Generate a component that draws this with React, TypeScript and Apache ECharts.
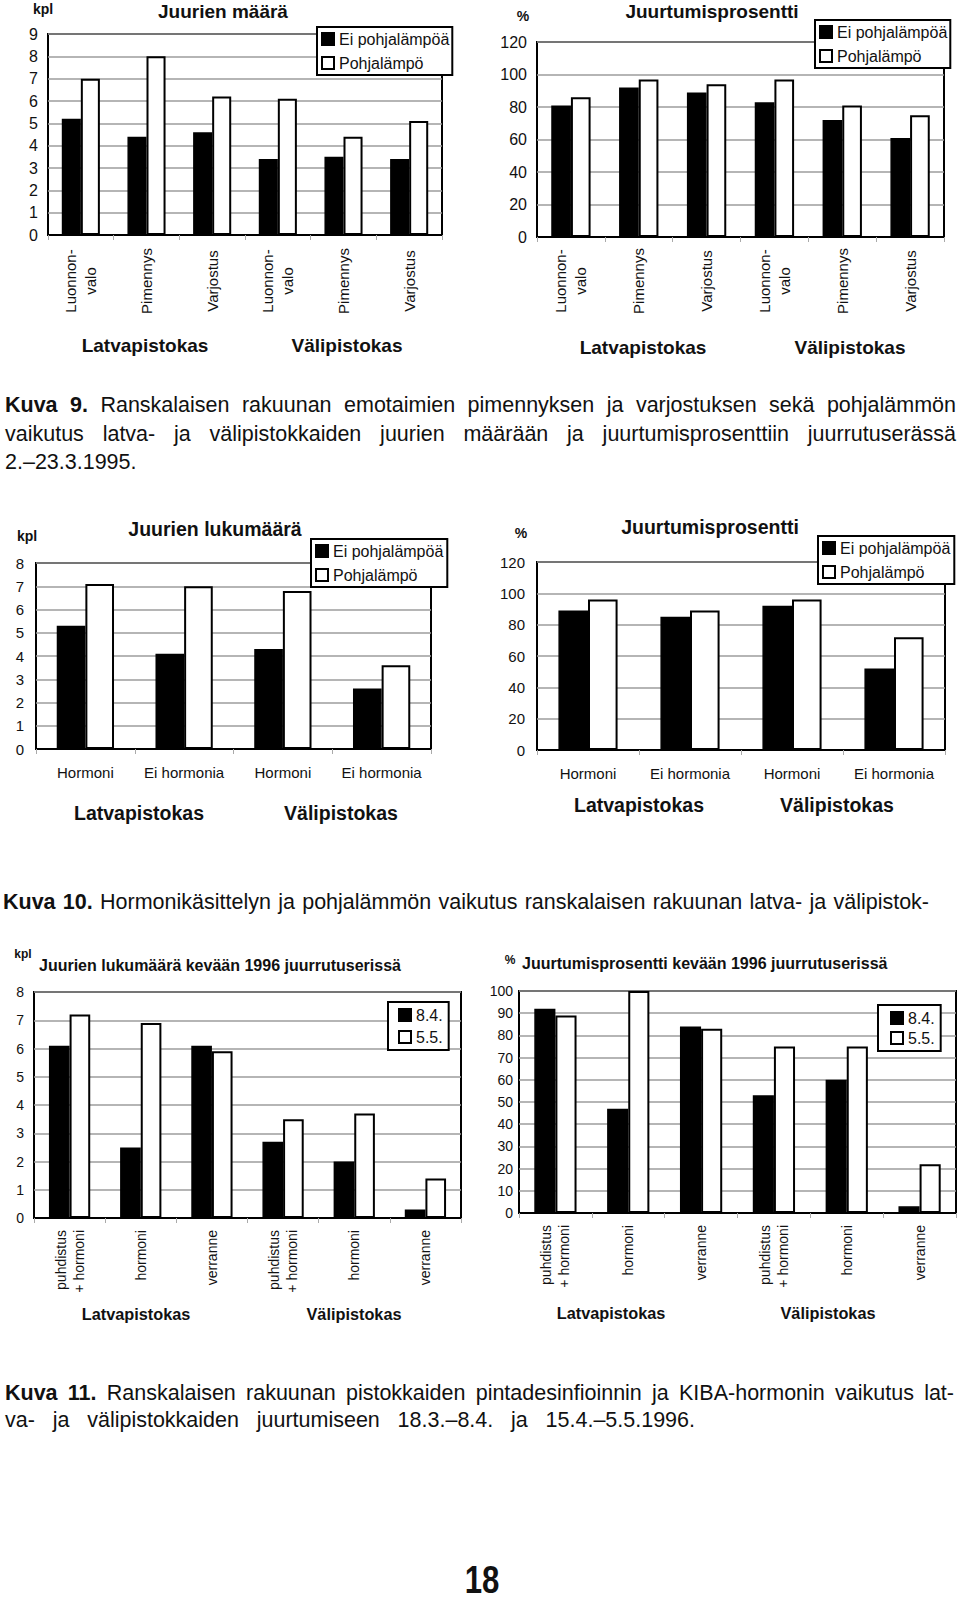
import React, { useEffect, useRef } from "react";
import * as echarts from "echarts";

// ---------- DATA ----------
const fig9Categories = ["Luonnon-\nvalo", "Pimennys", "Varjostus", "Luonnon-\nvalo", "Pimennys", "Varjostus"];
const fig9RootsNoHeat = [5.2, 4.4, 4.6, 3.4, 3.5, 3.4];
const fig9RootsHeat = [7.0, 8.0, 6.2, 6.1, 4.4, 5.1];
const fig9PctNoHeat = [81, 92, 89, 83, 72, 61];
const fig9PctHeat = [86, 97, 94, 97, 81, 75];

const fig10Categories = ["Hormoni", "Ei hormonia", "Hormoni", "Ei hormonia"];
const fig10RootsNoHeat = [5.3, 4.1, 4.3, 2.6];
const fig10RootsHeat = [7.1, 7.0, 6.8, 3.6];
const fig10PctNoHeat = [89, 85, 92, 52];
const fig10PctHeat = [96, 89, 96, 72];

const fig11Categories = ["puhdistus\n+ hormoni", "hormoni", "verranne", "puhdistus\n+ hormoni", "hormoni", "verranne"];
const fig11RootsApr = [6.1, 2.5, 6.1, 2.7, 2.0, 0.3];
const fig11RootsMay = [7.2, 6.9, 5.9, 3.5, 3.7, 1.4];
const fig11PctApr = [92, 47, 84, 53, 60, 3];
const fig11PctMay = [89, 100, 83, 75, 75, 22];

const heatNames = ["Ei pohjalämpöä", "Pohjalämpö"];
const batchNames = ["8.4.", "5.5."];
const groupNames = ["Latvapistokas", "Välipistokas"];

const titles = [
  "Juurien määrä",
  "Juurtumisprosentti",
  "Juurien lukumäärä",
  "Juurtumisprosentti",
  "Juurien lukumäärä kevään 1996 juurrutuserissä",
  "Juurtumisprosentti kevään 1996 juurrutuserissä",
];
const units = ["kpl", "%", "kpl", "%", "kpl", "%"];
const axisMax = [9, 120, 8, 120, 8, 100];
const axisStep = [1, 20, 1, 20, 1, 10];

const caption9 = [
  ["Kuva 9.", " Ranskalaisen rakuunan emotaimien pimennyksen ja varjostuksen sekä pohjalämmön"],
  ["", "vaikutus latva- ja välipistokkaiden juurien määrään ja juurtumisprosenttiin juurrutuserässä"],
  ["", "2.–23.3.1995."],
];
const caption10 = [["Kuva 10.", " Hormonikäsittelyn ja pohjalämmön vaikutus ranskalaisen rakuunan latva- ja välipistok-"]];
const caption11 = [
  ["Kuva 11.", " Ranskalaisen rakuunan pistokkaiden pintadesinfioinnin ja KIBA-hormonin vaikutus lat-"],
  ["", "va- ja välipistokkaiden juurtumiseen 18.3.–8.4. ja 15.4.–5.5.1996."],
];
const pageNumber = "18";

// ---------- LAYOUT ----------
const FONT = '"Liberation Sans", Arial, Helvetica, sans-serif';

type Panel = {
  grid: { left: number; top: number; width: number; height: number };
  cats: string[];
  a: number[];
  b: number[];
  names: string[];
  labelMode: "rotCenter" | "rotEnd" | "flat";
  labelMargin: number;
  labelSize: number;
  labelLineHeight: number;
  tickSize: number;
  tickMargin: number;
  unitGap: number;
  unitShift: number;
  unitSize: number;
  titleX: number;
  titleY: number;
  titleSize: number;
  titleAlign: "center" | "left";
  legend: { left: number; top: number; padding: number[]; itemGap: number };
  groupX: number[];
  groupY: number;
  groupSize: number;
};

const panels: Panel[] = [
  {
    grid: { left: 48, top: 34, width: 394, height: 201 },
    cats: fig9Categories, a: fig9RootsNoHeat, b: fig9RootsHeat, names: heatNames,
    labelMode: "rotCenter", labelMargin: 46, labelSize: 15, labelLineHeight: 20,
    tickSize: 16, tickMargin: 10, unitGap: 25, unitShift: 5, unitSize: 14,
    titleX: 223, titleY: 13, titleSize: 19, titleAlign: "center",
    legend: { left: 317, top: 27, padding: [4, 3, 4, 4], itemGap: 8 },
    groupX: [145, 347], groupY: 345, groupSize: 19,
  },
  {
    grid: { left: 537, top: 42, width: 407, height: 195 },
    cats: fig9Categories, a: fig9PctNoHeat, b: fig9PctHeat, names: heatNames,
    labelMode: "rotCenter", labelMargin: 44, labelSize: 15, labelLineHeight: 20,
    tickSize: 16, tickMargin: 10, unitGap: 26, unitShift: 14, unitSize: 14,
    titleX: 712, titleY: 13, titleSize: 19, titleAlign: "center",
    legend: { left: 815, top: 20, padding: [4, 3, 4, 4], itemGap: 8 },
    groupX: [643, 850], groupY: 347, groupSize: 19,
  },
  {
    grid: { left: 36, top: 563, width: 395, height: 186 },
    cats: fig10Categories, a: fig10RootsNoHeat, b: fig10RootsHeat, names: heatNames,
    labelMode: "flat", labelMargin: 14, labelSize: 15, labelLineHeight: 18,
    tickSize: 15, tickMargin: 12, unitGap: 27, unitShift: 9, unitSize: 14,
    titleX: 215, titleY: 531, titleSize: 19.5, titleAlign: "center",
    legend: { left: 311, top: 539, padding: [4, 4, 4, 4], itemGap: 8 },
    groupX: [139, 341], groupY: 813, groupSize: 19.5,
  },
  {
    grid: { left: 537, top: 562, width: 408, height: 188 },
    cats: fig10Categories, a: fig10PctNoHeat, b: fig10PctHeat, names: heatNames,
    labelMode: "flat", labelMargin: 14, labelSize: 15, labelLineHeight: 18,
    tickSize: 15, tickMargin: 12, unitGap: 29, unitShift: 16, unitSize: 14,
    titleX: 710, titleY: 529, titleSize: 19.5, titleAlign: "center",
    legend: { left: 818, top: 536, padding: [4, 4, 4, 4], itemGap: 8 },
    groupX: [639, 837], groupY: 805, groupSize: 19.5,
  },
  {
    grid: { left: 34, top: 992, width: 427, height: 226 },
    cats: fig11Categories, a: fig11RootsApr, b: fig11RootsMay, names: batchNames,
    labelMode: "rotEnd", labelMargin: 12, labelSize: 14, labelLineHeight: 18,
    tickSize: 14, tickMargin: 10, unitGap: 38, unitShift: 11, unitSize: 12,
    titleX: 39, titleY: 967, titleSize: 16, titleAlign: "left",
    legend: { left: 388, top: 1002, padding: [5, 6, 5, 10], itemGap: 6 },
    groupX: [136, 354], groupY: 1314, groupSize: 16.3,
  },
  {
    grid: { left: 519, top: 991, width: 437, height: 222 },
    cats: fig11Categories, a: fig11PctApr, b: fig11PctMay, names: batchNames,
    labelMode: "rotEnd", labelMargin: 12, labelSize: 14, labelLineHeight: 18,
    tickSize: 14, tickMargin: 6, unitGap: 31, unitShift: 9, unitSize: 12,
    titleX: 522, titleY: 965, titleSize: 16, titleAlign: "left",
    legend: { left: 878, top: 1005, padding: [5, 6, 5, 12], itemGap: 4 },
    groupX: [611, 828], groupY: 1313, groupSize: 16.3,
  },
];

function buildOption() {
  const grid = panels.map((p) => ({
    ...p.grid,
    show: true,
    borderColor: "#000",
    borderWidth: 2,
    backgroundColor: "transparent",
    containLabel: false,
  }));

  const xAxis = panels.map((p, i) => {
    const label: any = {
      interval: 0,
      color: "#111",
      fontSize: p.labelSize,
      lineHeight: p.labelLineHeight,
      margin: p.labelMargin,
      fontFamily: FONT,
    };
    if (p.labelMode === "rotCenter") {
      label.rotate = 90;
      label.align = "center";
      label.verticalAlign = "middle";
    } else if (p.labelMode === "rotEnd") {
      label.rotate = 90;
    }
    return {
      type: "category",
      gridIndex: i,
      data: p.cats,
      axisLine: { show: true, lineStyle: { color: "#000", width: 2 } },
      axisTick: { show: true, length: 5, lineStyle: { color: "#aaa", width: 1 } },
      axisLabel: label,
    };
  });

  const yAxis = panels.map((p, i) => ({
    type: "value",
    gridIndex: i,
    min: 0,
    max: axisMax[i],
    interval: axisStep[i],
    axisLine: { show: false },
    axisTick: { show: false },
    splitLine: { show: true, lineStyle: { color: "#9c9c9c", width: 1.5 } },
    axisLabel: { color: "#111", fontSize: p.tickSize, margin: p.tickMargin, fontFamily: FONT },
    name: units[i],
    nameLocation: "end",
    nameGap: p.unitGap,
    nameTextStyle: {
      color: "#111",
      fontSize: p.unitSize,
      fontWeight: "bold",
      fontFamily: FONT,
      align: "center",
      verticalAlign: "middle",
      padding: [0, p.unitShift * 2, 0, 0],
    },
  }));

  const series: any[] = [];
  panels.forEach((p, i) => {
    series.push({
      type: "bar",
      name: p.names[0],
      xAxisIndex: i,
      yAxisIndex: i,
      data: p.a,
      barGap: "0%",
      barCategoryGap: "42%",
      itemStyle: { color: "#000", borderColor: "#000", borderWidth: 1.5 },
      emphasis: { disabled: true },
    });
    series.push({
      type: "bar",
      name: p.names[1],
      xAxisIndex: i,
      yAxisIndex: i,
      data: p.b,
      barGap: "0%",
      barCategoryGap: "42%",
      itemStyle: { color: "#fff", borderColor: "#000", borderWidth: 2 },
      emphasis: { disabled: true },
    });
  });

  const legend = panels.map((p) => ({
    data: p.names,
    orient: "vertical",
    left: p.legend.left,
    top: p.legend.top,
    padding: p.legend.padding,
    itemGap: p.legend.itemGap,
    itemWidth: 12,
    itemHeight: 12,
    icon: "rect",
    borderColor: "#000",
    borderWidth: 2,
    backgroundColor: "#fff",
    selectedMode: false,
    textStyle: { color: "#111", fontSize: 16, fontFamily: FONT },
  }));

  const title = panels.map((p, i) => ({
    text: titles[i],
    left: p.titleX,
    top: p.titleY - Math.round(p.titleSize * 0.6),
    textAlign: p.titleAlign,
    padding: 0,
    textStyle: { color: "#111", fontSize: p.titleSize, fontWeight: "bold", fontFamily: FONT },
  }));

  const graphic: any[] = [];
  panels.forEach((p) => {
    groupNames.forEach((g, k) => {
      graphic.push({
        type: "text",
        x: p.groupX[k],
        y: p.groupY,
        style: {
          text: g,
          fill: "#111",
          fontSize: p.groupSize,
          fontWeight: "bold",
          fontFamily: FONT,
          align: "center",
          verticalAlign: "middle",
        },
      });
    });
  });

  return {
    animation: false,
    backgroundColor: "#fff",
    textStyle: { fontFamily: FONT },
    title,
    legend,
    grid,
    xAxis,
    yAxis,
    series,
    graphic,
  };
}

type Line = { text: string[]; top: number; left: number; width: number; justify: boolean };

const captionLines: Line[] = [
  { text: caption9[0], top: 405, left: 5, width: 951, justify: true },
  { text: caption9[1], top: 434, left: 5, width: 951, justify: true },
  { text: caption9[2], top: 462, left: 5, width: 951, justify: false },
  { text: caption10[0], top: 902, left: 3, width: 926, justify: true },
  { text: caption11[0], top: 1393, left: 5, width: 949, justify: true },
  { text: caption11[1], top: 1420, left: 5, width: 690, justify: true },
];

export default function App() {
  const ref = useRef<HTMLDivElement>(null);
  useEffect(() => {
    if (!ref.current) return;
    const chart = echarts.init(ref.current, undefined, { renderer: "svg" });
    chart.setOption(buildOption() as any);
    return () => chart.dispose();
  }, []);

  return (
    <div style={{ position: "absolute", left: 0, top: 0, width: 960, height: 1600, background: "#fff" }}>
      <div ref={ref} style={{ position: "absolute", left: 0, top: 0, width: 960, height: 1600 }} />
      {captionLines.map((l, i) => (
        <div
          key={i}
          style={{
            position: "absolute",
            left: l.left,
            top: l.top - 14,
            width: l.width,
            height: 28,
            lineHeight: "28px",
            fontFamily: FONT,
            fontSize: 21.5,
            color: "#111",
            whiteSpace: "nowrap",
            textAlign: l.justify ? "justify" : "left",
            textAlignLast: l.justify ? "justify" : "left",
          } as any}
        >
          {l.text[0] ? <b>{l.text[0]}</b> : null}
          {l.text[1]}
        </div>
      ))}
      <div
        style={{
          position: "absolute",
          left: 432,
          top: 1558,
          width: 100,
          textAlign: "center",
          fontFamily: FONT,
          fontWeight: "bold",
          fontSize: 39,
          lineHeight: "44px",
          color: "#111",
          transform: "scaleX(0.8)",
        }}
      >
        {pageNumber}
      </div>
    </div>
  );
}
